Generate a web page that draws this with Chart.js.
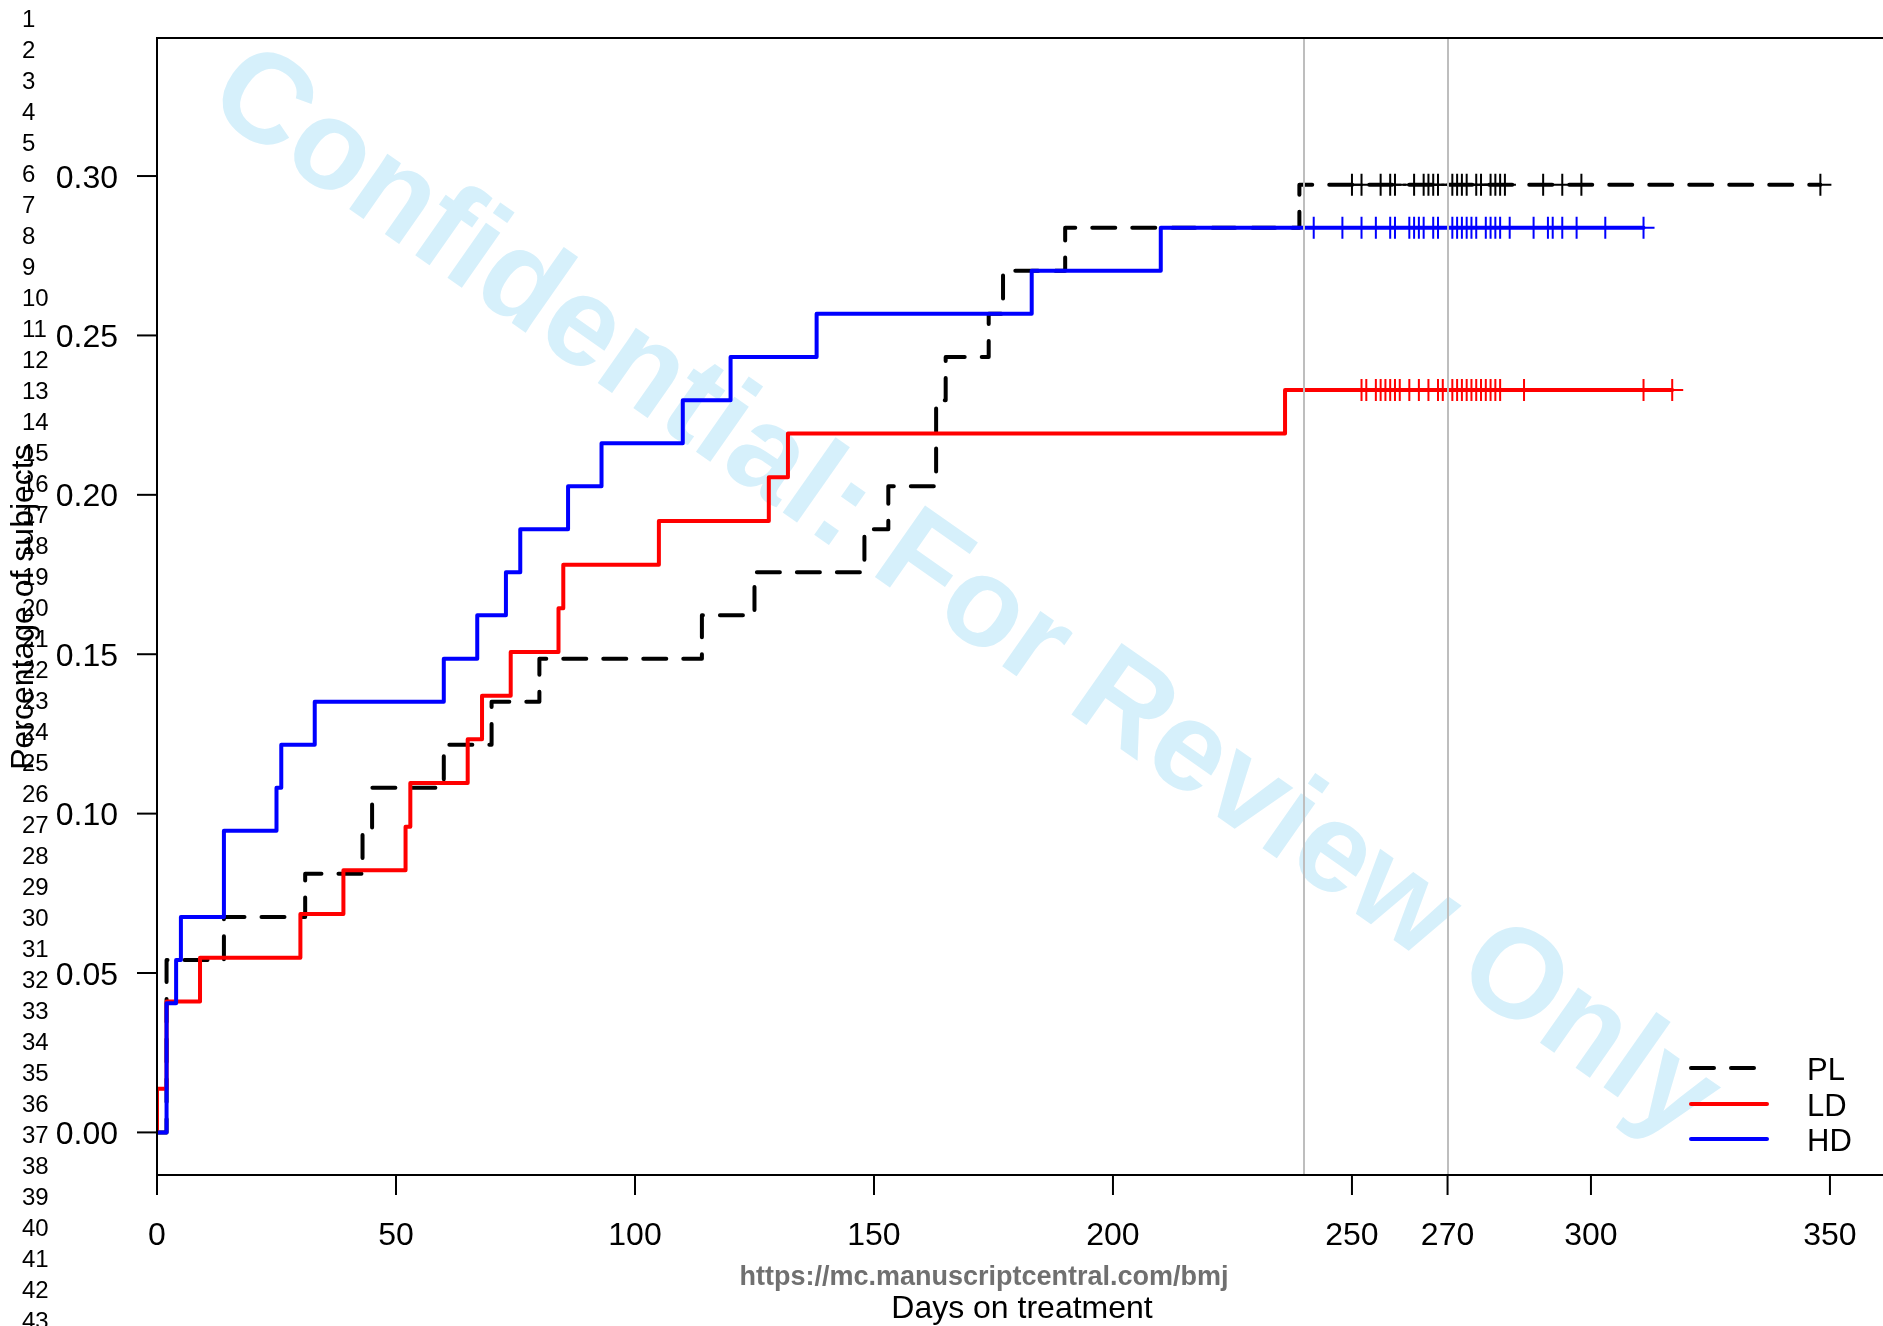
<!DOCTYPE html>
<html>
<head>
<meta charset="utf-8">
<title>Days on treatment</title>
<script src="https://cdn.jsdelivr.net/npm/chart.js@4.4.0/dist/chart.umd.min.js"></script>
<style>
    html, body { margin: 0; padding: 0; background: #ffffff; }
    #wrap { position: relative; width: 1883px; height: 1326px; overflow: hidden; }
</style>
</head>
<body>
<div id="wrap"><canvas id="km-chart" width="1883" height="1326"></canvas></div>
<script>
// Cumulative proportion of subjects with an event
const plDays = [0, 2, 14, 31, 43, 45, 60, 70, 80, 114, 125, 148, 153, 163, 165, 174, 177, 190, 239, 348];
const plRisk = [0, 0.0541, 0.0676, 0.0811, 0.0946, 0.1081, 0.1216, 0.1351, 0.1486, 0.1622, 0.1757, 0.1892, 0.2027, 0.2297, 0.2432, 0.2568, 0.2703, 0.2838, 0.2973, 0.2973];
const plCensored = [250, 252, 256, 258, 259, 263, 265, 266, 267, 268, 271, 272, 273, 274, 276, 277, 279, 280, 281, 282, 290, 294, 298, 348];

const ldDays = [0, 0, 2, 9, 30, 39, 52, 53, 65, 68, 74, 84, 85, 105, 128, 132, 236, 317];
const ldRisk = [0, 0.0137, 0.0411, 0.0548, 0.0685, 0.0822, 0.0959, 0.1096, 0.1233, 0.1370, 0.1507, 0.1644, 0.1781, 0.1918, 0.2055, 0.2192, 0.2329, 0.2329];
const ldCensored = [252, 253, 255, 256, 257, 258, 259, 260, 262, 264, 266, 268, 269, 271, 272, 273, 274, 275, 276, 277, 278, 279, 280, 281, 286, 311, 317];

const hdDays = [0, 2, 4, 5, 14, 25, 26, 33, 60, 67, 73, 76, 86, 93, 110, 120, 138, 183, 210, 311];
const hdRisk = [0, 0.0405, 0.0541, 0.0676, 0.0946, 0.1081, 0.1216, 0.1351, 0.1486, 0.1622, 0.1757, 0.1892, 0.2027, 0.2162, 0.2297, 0.2432, 0.2568, 0.2703, 0.2838, 0.2838];
const hdCensored = [242, 248, 252, 255, 258, 259, 262, 263, 264, 265, 267, 268, 271, 272, 273, 274, 275, 276, 278, 279, 280, 281, 283, 288, 291, 292, 294, 297, 303, 311];

const groupLabels = ['PL', 'LD', 'HD'];
const groupColors = ['#000000', '#ff0000', '#0000ff'];

// Axis ticks and reference lines
const xTicks = [0, 50, 100, 150, 200, 250, 270, 300, 350];
const yTicks = [0, 0.05, 0.10, 0.15, 0.20, 0.25, 0.30];
const yTickLabels = ['0.00', '0.05', '0.10', '0.15', '0.20', '0.25', '0.30'];
const refDays = [240, 270];

// Manuscript line numbers down the margin
const lineNumbers = Array.from({ length: 43 }, (_, i) => String(i + 1));

const FONT = '"Liberation Sans", Arial, Helvetica, sans-serif';
const PL_DASH = [23, 17];

/**
 * Turn day/value arrays into step points
 */
const buildSteps = (days, values) => days.map((d, i) => ({ x: d, y: values[i] }));

/**
 * Censor marks sit on the last level of each curve
 */
const buildCensor = (days, values) => days.map(d => ({ x: d, y: values[values.length - 1] }));

/**
 * Watermark, drawn under the curves
 */
const watermarkPlugin = {
    id: 'watermark',
    beforeDraw: (chart) => {
        const ctx = chart.ctx;
        ctx.save();
        ctx.fillStyle = '#ffffff';
        ctx.fillRect(0, 0, chart.width, chart.height);
        ctx.restore();
    },
    beforeDatasetsDraw: (chart) => {
        const ctx = chart.ctx;
        ctx.save();
        ctx.translate(969, 588);
        ctx.rotate(35 * Math.PI / 180);
        ctx.fillStyle = '#d6f0fb';
        ctx.font = 'bold 127px ' + FONT;
        ctx.textAlign = 'center';
        ctx.textBaseline = 'alphabetic';
        ctx.fillText('Confidential: For Review Only', 0, 45);
        ctx.restore();
    }
};

/**
 * Frame, axes, reference lines, legend and page text in R style
 */
const framePlugin = {
    id: 'frame',
    afterDatasetsDraw: (chart) => {
        const ctx = chart.ctx;
        const area = chart.chartArea;
        const xScale = chart.scales.x;
        const yScale = chart.scales.y;

        ctx.save();

        // Grey reference lines on top of the curves
        ctx.strokeStyle = '#bebebe';
        ctx.lineWidth = 2;
        refDays.forEach(d => {
            const x = Math.round(xScale.getPixelForValue(d));
            ctx.beginPath();
            ctx.moveTo(x, area.top);
            ctx.lineTo(x, area.bottom);
            ctx.stroke();
        });

        // Box (right side falls off the page)
        ctx.strokeStyle = '#000000';
        ctx.lineWidth = 2;
        ctx.beginPath();
        ctx.moveTo(area.right + 10, area.top);
        ctx.lineTo(area.left, area.top);
        ctx.lineTo(area.left, area.bottom);
        ctx.lineTo(area.right + 10, area.bottom);
        ctx.stroke();

        // Y axis ticks and labels
        ctx.fillStyle = '#000000';
        ctx.font = '32px ' + FONT;
        ctx.textAlign = 'right';
        ctx.textBaseline = 'alphabetic';
        yTicks.forEach((v, i) => {
            const y = yScale.getPixelForValue(v);
            ctx.beginPath();
            ctx.moveTo(area.left - 20, y);
            ctx.lineTo(area.left, y);
            ctx.stroke();
            ctx.fillText(yTickLabels[i], 118, y + 11.5);
        });

        // X axis ticks and labels
        ctx.textAlign = 'center';
        xTicks.forEach(d => {
            const x = xScale.getPixelForValue(d);
            ctx.beginPath();
            ctx.moveTo(x, area.bottom);
            ctx.lineTo(x, area.bottom + 20);
            ctx.stroke();
            ctx.fillText(String(d), x, 1245);
        });

        // Axis titles
        ctx.font = '32px ' + FONT;
        ctx.fillText('Days on treatment', 1022, 1318);
        ctx.save();
        ctx.translate(33, 607);
        ctx.rotate(-Math.PI / 2);
        ctx.fillText('Percentage of subjects', 0, 0);
        ctx.restore();

        // Journal address
        ctx.save();
        ctx.fillStyle = '#707070';
        ctx.font = 'bold 27px ' + FONT;
        ctx.fillText('https://mc.manuscriptcentral.com/bmj', 984, 1285);
        ctx.restore();

        // Line numbers
        ctx.font = '24px ' + FONT;
        ctx.textAlign = 'left';
        lineNumbers.forEach((n, i) => {
            ctx.fillText(n, 22, 18 + i * 31.02 + 8.6);
        });

        // Legend
        const legendY = [1068, 1104, 1139];
        ctx.lineWidth = 4;
        ctx.lineCap = 'round';
        groupLabels.forEach((label, i) => {
            ctx.strokeStyle = groupColors[i];
            ctx.setLineDash(i === 0 ? PL_DASH : []);
            ctx.beginPath();
            ctx.moveTo(1691, legendY[i]);
            ctx.lineTo(1767, legendY[i]);
            ctx.stroke();
            ctx.setLineDash([]);
            ctx.fillStyle = '#000000';
            ctx.font = '31px ' + FONT;
            ctx.fillText(label, 1807, legendY[i] + 11.5);
        });

        ctx.restore();
    }
};

const ctx = document.getElementById('km-chart').getContext('2d');

const stepLine = (label, days, values, color, order, dash) => ({
    label: label,
    data: buildSteps(days, values),
    borderColor: color,
    backgroundColor: color,
    borderWidth: 4,
    borderDash: dash,
    borderCapStyle: 'round',
    borderJoinStyle: 'round',
    stepped: true,
    pointRadius: 0,
    fill: false,
    order: order
});

const censorMarks = (label, days, values, color, order) => ({
    label: label + ' censored',
    data: buildCensor(days, values),
    showLine: false,
    pointStyle: 'cross',
    pointRadius: 11,
    pointBorderWidth: 2,
    pointBorderColor: color,
    pointBackgroundColor: color,
    order: order
});

const kmChart = new Chart(ctx, {
    type: 'line',
    data: {
        datasets: [
            stepLine('PL', plDays, plRisk, groupColors[0], 6, PL_DASH),
            censorMarks('PL', plCensored, plRisk, groupColors[0], 5),
            stepLine('LD', ldDays, ldRisk, groupColors[1], 4, []),
            censorMarks('LD', ldCensored, ldRisk, groupColors[1], 3),
            stepLine('HD', hdDays, hdRisk, groupColors[2], 2, []),
            censorMarks('HD', hdCensored, hdRisk, groupColors[2], 1)
        ]
    },
    options: {
        responsive: false,
        animation: false,
        events: [],
        layout: {
            autoPadding: false,
            padding: { left: 157, top: 38, right: 0, bottom: 151 }
        },
        scales: {
            x: { type: 'linear', min: 0, max: 361.1, display: false },
            y: { type: 'linear', min: -0.01336, max: 0.3433, display: false }
        },
        plugins: {
            legend: { display: false },
            tooltip: { enabled: false }
        }
    },
    plugins: [watermarkPlugin, framePlugin]
});
</script>
</body>
</html>
